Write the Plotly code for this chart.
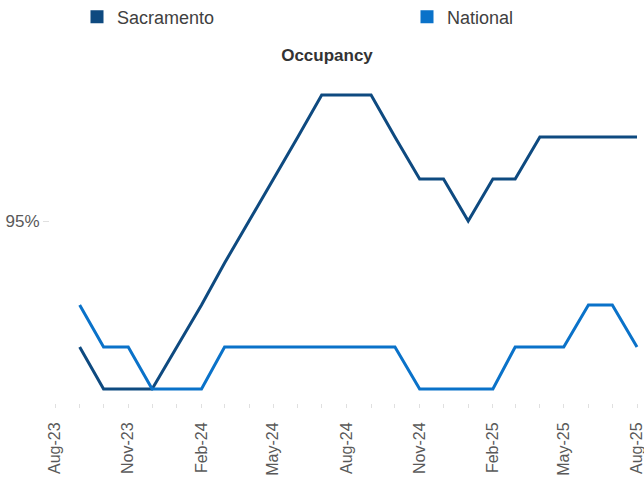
import plotly.graph_objects as go
import pandas as pd

months = pd.date_range("2023-09-01", "2025-08-01", freq="MS").strftime("%Y-%m-%d").tolist()
sacramento = [93.5, 93.0, 93.0, 93.0, 93.5, 94.0, 94.5, 95.0, 95.5, 96.0, 96.5, 96.5,
              96.5, 96.0, 95.5, 95.5, 95.0, 95.5, 95.5, 96.0, 96.0, 96.0, 96.0, 96.0]
national = [94.0, 93.5, 93.5, 93.0, 93.0, 93.0, 93.5, 93.5, 93.5, 93.5, 93.5, 93.5,
            93.5, 93.5, 93.0, 93.0, 93.0, 93.0, 93.5, 93.5, 93.5, 94.0, 94.0, 93.5]
y_ticks = [95]
y_tick_text = ["95%"]

SAC_COLOR = "#0E4A80"
NAT_COLOR = "#0A72C9"
FONT = "Liberation Sans"

W, H = 644, 480
L, R, T, B = 50, 4, 75, 77
plot_w = W - L - R
# pixel mapping: 2023-08-01 -> x=55, 2025-08-01 -> x=637
d0 = pd.Timestamp("2023-08-01")
d1 = pd.Timestamp("2025-08-01")
pxd = (637 - 55) / (d1 - d0).days
x_start = d0 - pd.Timedelta(days=(55 - L) / pxd)
x_end = d1 + pd.Timedelta(days=(W - R - 637) / pxd)

# y mapping: 95 -> y=221, 84 px per 1%
axis_bottom = H - B
y_lo = 95 - (axis_bottom - 221) / 84
y_hi = 95 + (221 - T) / 84
leg_y = (axis_bottom - 17) / (axis_bottom - T)

fig = go.Figure()
fig.add_trace(go.Scatter(x=months, y=sacramento, mode="lines", name="Sacramento",
                         line=dict(color=SAC_COLOR, width=3), showlegend=False))
fig.add_trace(go.Scatter(x=months, y=national, mode="lines", name="National",
                         line=dict(color=NAT_COLOR, width=3), showlegend=False))
# legend entries as squares
fig.add_trace(go.Scatter(x=[None], y=[None], mode="markers", name="Sacramento",
                         marker=dict(symbol="square", size=13, color=SAC_COLOR),
                         legend="legend"))
fig.add_trace(go.Scatter(x=[None], y=[None], mode="markers", name="National",
                         marker=dict(symbol="square", size=13, color=NAT_COLOR),
                         legend="legend2"))

leg_common = dict(orientation="h", xanchor="left", yanchor="middle",
                  font=dict(size=18, color="#404040", family=FONT),
                  bgcolor="rgba(0,0,0,0)")

fig.update_layout(
    width=W, height=H,
    margin=dict(l=L, r=R, t=T, b=B, autoexpand=False),
    paper_bgcolor="white", plot_bgcolor="white",
    font=dict(family=FONT, color="#404040"),
    title=dict(text="<b>Occupancy</b>", x=327 / W, xanchor="center",
               y=1 - 55 / H, yanchor="middle",
               font=dict(size=17, color="#333333", family=FONT)),
    legend=dict(x=(77 - L) / plot_w, y=leg_y, **leg_common),
    legend2=dict(x=(407 - L) / plot_w, y=leg_y, **leg_common),
    xaxis=dict(type="date", range=[x_start, x_end],
               tick0="2023-08-01", dtick="M3", tickformat="%b-%y",
               tickangle=-90, ticks="outside", ticklen=4, tickcolor="#e0e0e0",
               ticklabelstandoff=8, ticklabeloverflow="allow",
               tickfont=dict(size=16, color="#595959", family=FONT),
               minor=dict(dtick="M1", ticks="outside", ticklen=4, tickcolor="#e0e0e0"),
               showgrid=False, showline=False, zeroline=False),
    yaxis=dict(range=[y_lo, y_hi], tickvals=y_ticks, ticktext=y_tick_text,
               ticks="outside", ticklen=6, tickcolor="#e0e0e0",
               tickfont=dict(size=17, color="#595959", family=FONT),
               showgrid=False, showline=False, zeroline=False),
)

fig.write_html("out.html")
